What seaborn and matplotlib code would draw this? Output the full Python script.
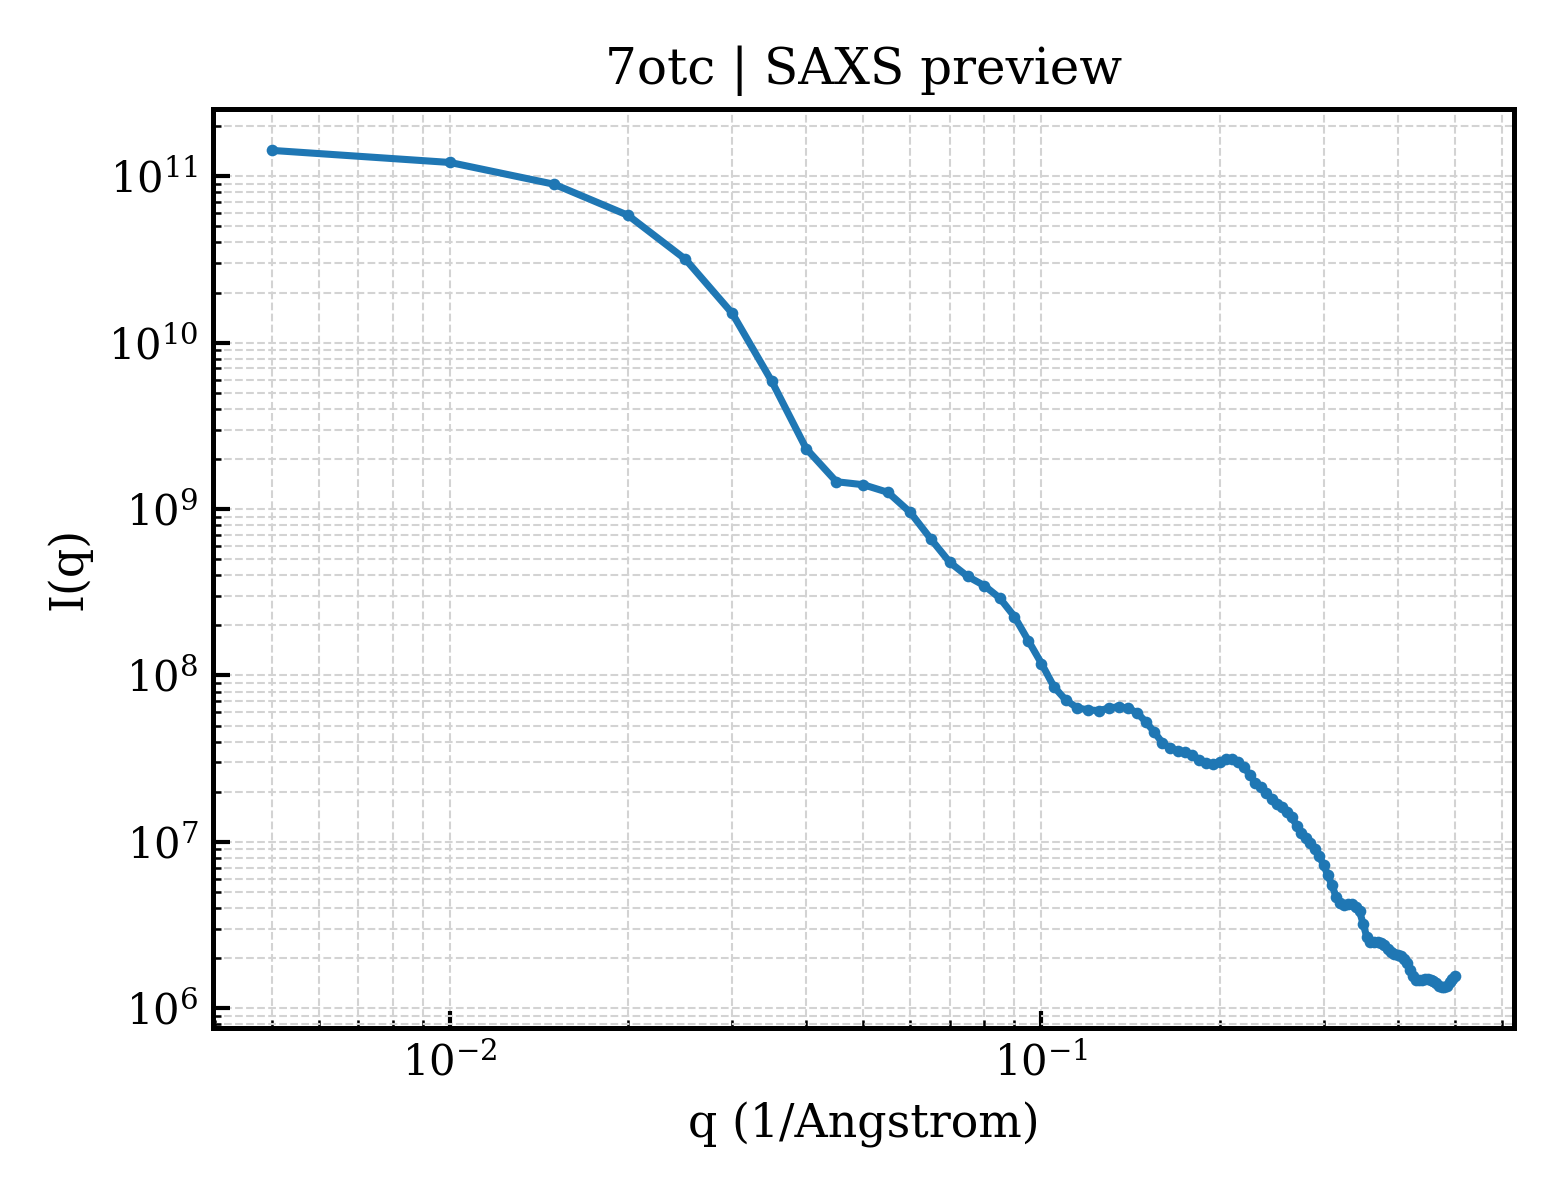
import numpy as np
import pandas as pd
import matplotlib
matplotlib.use("Agg")
import matplotlib.pyplot as plt
import seaborn as sns

# q grid (1/Angstrom)
q = [0.005, 0.010, 0.015, 0.020, 0.025, 0.030, 0.035, 0.040, 0.045, 0.050,
     0.055, 0.060, 0.065, 0.070, 0.075, 0.080, 0.085, 0.090, 0.095, 0.100,
     0.105, 0.110, 0.115, 0.120, 0.125, 0.130, 0.135, 0.140, 0.145, 0.150,
     0.155, 0.160, 0.165, 0.170, 0.175, 0.180, 0.185, 0.190, 0.195, 0.200,
     0.205, 0.210, 0.215, 0.220, 0.225, 0.230, 0.235, 0.240, 0.245, 0.250,
     0.255, 0.260, 0.265, 0.270, 0.275, 0.280, 0.285, 0.290, 0.295, 0.300,
     0.305, 0.310, 0.315, 0.320, 0.325, 0.330, 0.335, 0.340, 0.345, 0.350,
     0.355, 0.360, 0.365, 0.370, 0.375, 0.380, 0.385, 0.390, 0.395, 0.400,
     0.405, 0.410, 0.415, 0.420, 0.425, 0.430, 0.435, 0.440, 0.445, 0.450,
     0.455, 0.460, 0.465, 0.470, 0.475, 0.480, 0.485, 0.490, 0.495, 0.500]

# intensity I(q)
intensity = [1.43e11, 1.21e11, 8.95e10, 5.82e10, 3.17e10, 1.50e10, 5.85e9, 2.31e9, 1.46e9, 1.40e9,
             1.26e9, 9.55e8, 6.61e8, 4.78e8, 3.94e8, 3.47e8, 2.92e8, 2.26e8, 1.62e8, 1.18e8,
             8.54e7, 7.10e7, 6.38e7, 6.21e7, 6.15e7, 6.36e7, 6.50e7, 6.36e7, 5.98e7, 5.28e7,
             4.59e7, 3.95e7, 3.65e7, 3.53e7, 3.45e7, 3.33e7, 3.11e7, 2.99e7, 2.94e7, 3.03e7,
             3.15e7, 3.14e7, 3.03e7, 2.83e7, 2.52e7, 2.26e7, 2.14e7, 1.97e7, 1.82e7, 1.69e7,
             1.61e7, 1.52e7, 1.41e7, 1.25e7, 1.13e7, 1.05e7, 9.89e6, 9.12e6, 8.19e6, 7.25e6,
             6.30e6, 5.47e6, 4.66e6, 4.28e6, 4.17e6, 4.24e6, 4.25e6, 4.07e6, 3.83e6, 3.20e6,
             2.67e6, 2.51e6, 2.51e6, 2.49e6, 2.46e6, 2.39e6, 2.28e6, 2.18e6, 2.13e6, 2.10e6,
             2.06e6, 1.99e6, 1.88e6, 1.71e6, 1.57e6, 1.47e6, 1.47e6, 1.48e6, 1.49e6, 1.50e6,
             1.47e6, 1.45e6, 1.41e6, 1.36e6, 1.35e6, 1.35e6, 1.36e6, 1.43e6, 1.49e6, 1.56e6]

df = pd.DataFrame({"q": q, "I": intensity})

sns.set_theme(style="white")
plt.rcParams["font.family"] = ["DejaVu Serif"]
plt.rcParams["mathtext.fontset"] = "dejavuserif"
plt.rcParams["text.color"] = "black"
plt.rcParams["axes.labelcolor"] = "black"
plt.rcParams["xtick.color"] = "black"
plt.rcParams["ytick.color"] = "black"

fig, ax = plt.subplots(figsize=(5.2, 4), dpi=300)
fig.subplots_adjust(left=0.1365, right=0.9705, top=0.9095, bottom=0.143)

sns.lineplot(data=df, x="q", y="I", ax=ax, color="#1f77b4", linewidth=1.7,
             marker="o", markersize=2.8, markeredgewidth=0, sort=False)

ax.set_xscale("log")
ax.set_yscale("log")

ax.set_title("7otc | SAXS preview", fontsize=12, color="black")
ax.set_xlabel("q (1/Angstrom)", fontsize=11)
ax.set_ylabel("I(q)", fontsize=11)

ax.tick_params(which="major", direction="in", length=4, width=1, labelsize=10,
               bottom=True, left=True, top=False, right=False)
ax.tick_params(which="minor", direction="in", length=2, width=0.6,
               bottom=True, left=True, top=False, right=False)
for sp in ax.spines.values():
    sp.set_color("black")
    sp.set_linewidth(1.2)

ax.grid(True, which="both", linestyle="--", linewidth=0.5, color="#d3d3d3")
ax.set_axisbelow(True)

fig.savefig("out.png", dpi=300)
